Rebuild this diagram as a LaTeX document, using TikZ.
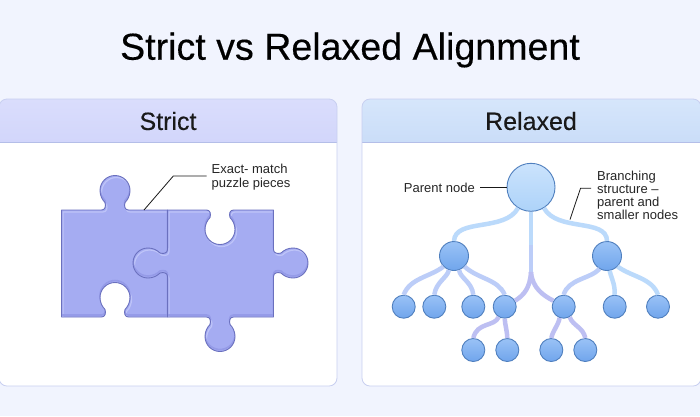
\documentclass[tikz,border=0pt]{standalone}
\usepackage{fontspec}
\setmainfont{Liberation Sans}
\newfontfamily\medfont[FakeBold=0.3]{Liberation Sans}
\definecolor{pagebg}{HTML}{F1F4FE}
\definecolor{panelline}{HTML}{C8CFF0}
\definecolor{strictA}{HTML}{DADDFC}
\definecolor{strictB}{HTML}{D2D6FB}
\definecolor{relaxA}{HTML}{D6E6FB}
\definecolor{relaxB}{HTML}{CADDF8}
\definecolor{headline}{HTML}{B4BEE8}
\definecolor{piecefill}{HTML}{A5ACF2}
\definecolor{pieceedge}{HTML}{6A70BE}
\definecolor{piecelight}{HTML}{BEC4F8}
\definecolor{piecedark}{HTML}{959BE8}
\definecolor{nodeedge}{HTML}{4F7FBE}
\definecolor{rootA}{HTML}{CBE3FC}
\definecolor{rootB}{HTML}{ADD3F9}
\definecolor{ballA}{HTML}{9AC2F6}
\definecolor{ballB}{HTML}{70A5EC}
\definecolor{linkA}{HTML}{BBDAFB}
\definecolor{linkB}{HTML}{BCCDF8}
\definecolor{linkC}{HTML}{BDBFF2}
\newcommand\jigtab[4]{{[shift={(#1,#2)},rotate=#3,yscale=#4] -- (-13.5,0) .. controls (-10,0) and (-8.8,-3.5) .. (-10,-7.5) .. controls (-13.2,-10.6) and (-15,-15.2) .. (-15,-19.5) .. controls (-15,-27.8) and (-8.3,-34.5) .. (0,-34.5) .. controls (8.3,-34.5) and (15,-27.8) .. (15,-19.5) .. controls (15,-15.2) and (13.2,-10.6) .. (10,-7.5) .. controls (8.8,-3.5) and (10,0) .. (13.5,0)}}
\newcommand\jigpiece[1]{
\fill[piecefill] #1;
\begin{scope}
\clip #1;
\draw[piecelight,line width=1.2pt,shift={(1.5,2)}] #1;
\draw[piecedark,line width=1.6pt,shift={(0,-2)}] #1;
\end{scope}
\draw[pieceedge,line width=0.9pt,line join=round] #1;
}
\begin{document}
\begin{tikzpicture}[x=1pt,y=-1pt,
panel/.style={draw=panelline,line width=0.8pt,rounded corners=8pt},
headtext/.style={font=\medfont\fontsize{25}{28}\selectfont,text=black!90},
note/.style={font=\fontsize{13}{13}\selectfont,align=left,text=black!85,inner sep=5pt},
leader/.style={draw=black!90,line width=0.8pt},
bignode/.style={shape=circle,draw=nodeedge,line width=0.9pt,inner sep=0pt,minimum size=48pt,top color=rootA,bottom color=rootB},
midnode/.style={shape=circle,draw=nodeedge,line width=0.9pt,inner sep=0pt,minimum size=29pt,top color=ballA,bottom color=ballB},
leafnode/.style={midnode,minimum size=23pt},
linkT/.style={line width=4.5pt,draw=linkA},
linkM/.style={line width=4.5pt,draw=linkB},
linkL/.style={line width=4.5pt,draw=linkC}]
\def\ya{306.7}
\def\yb{350}

\useasboundingbox (0,0) rectangle (700,416);
\fill[pagebg] (0,0) rectangle (700,416);

\node[font=\medfont\fontsize{37.6}{42}\selectfont,text=black] (title) at (350,50) {Strict vs Relaxed Alignment};

\fill[white,rounded corners=8pt] (-1,99) rectangle (337,386);
\begin{scope}
\clip[rounded corners=8pt] (-1,99) rectangle (337,386);
\shade[top color=strictA,bottom color=strictB] (-1,99) rectangle (337,142);
\draw[headline,line width=0.8pt] (-1,142) -- (337,142);
\end{scope}
\draw[panel] (-1,99) rectangle (337,386);
\node[headtext] (strict) at (168,121) {Strict};

\fill[white,rounded corners=8pt] (362,99) rectangle (701,386);
\begin{scope}
\clip[rounded corners=8pt] (362,99) rectangle (701,386);
\shade[top color=relaxA,bottom color=relaxB] (362,99) rectangle (701,142);
\draw[headline,line width=0.8pt] (362,142) -- (701,142);
\end{scope}
\draw[panel] (362,99) rectangle (701,386);
\node[headtext] (relaxed) at (531,121) {Relaxed};

\jigpiece{(61.5,210) \jigtab{115}{210}{0}{1} -- (167.5,210) -- (167.5,317) \jigtab{115}{317}{180}{-1} -- (61.5,317) -- cycle}
\jigpiece{(167.5,210) \jigtab{220}{210}{0}{-1} -- (273.5,210) \jigtab{273.5}{263}{-90}{1} -- (273.5,317) \jigtab{220}{317}{180}{1} -- (167.5,317) \jigtab{167.5}{263}{90}{1} -- cycle}

\node[note,anchor=west] (exact) at (206.5,177.5) {Exact- match\\[1pt]puzzle pieces};
\coordinate (exacttip) at (144,210);
\coordinate (exactbend) at (173.3,176);
\draw[leader] (exacttip) -- (exactbend) -- (exact.west |- exactbend);

\node[bignode] (root) at (531,187.3) {};
\node[midnode] (L) at (454,256) {};
\node[midnode] (R) at (607,256) {};

\node[note,anchor=east] (parent) at (480,187.5) {Parent node};
\draw[leader] (parent.east |- root.west) -- (root.west);

\node[note,anchor=west,inner sep=6pt] (branching) at (591,195.5) {Branching\\structure --\\parent and\\smaller nodes};
\coordinate (branchtip) at (570,219.5);
\coordinate (branchbend) at (580.5,188.3);
\draw[leader] (branchtip) -- (branchbend) -- (branching.west |- branchbend);

\draw[linkT] (root.238) .. controls (505,232) and (455,218) .. (L.north);
\draw[linkT] (root.302) .. controls (557,232) and (607,218) .. (R.north);

\node[leafnode] (a1) at (403.7,\ya) {};
\draw[linkM] (L.225) .. controls (430,277) and (410,278) .. (a1.north);
\node[leafnode] (a2) at (434.3,\ya) {};
\draw[linkM] (L.250) .. controls (447,278) and (436,282) .. (a2.north);
\node[leafnode] (a3) at (473.3,\ya) {};
\draw[linkM] (L.290) .. controls (460,278) and (472,282) .. (a3.north);
\node[leafnode] (a4) at (504.7,\ya) {};
\draw[linkM] (L.315) .. controls (478,279) and (498,279) .. (a4.north);

\node[leafnode] (a5) at (563.7,\ya) {};
\draw[linkM] (R.240) .. controls (590,279) and (568,279) .. (a5.north);
\node[leafnode] (a6) at (614.7,\ya) {};
\draw[linkT] (R.280) .. controls (612,280) and (615,284) .. (a6.north);
\node[leafnode] (a7) at (658,\ya) {};
\draw[linkT] (R.315) .. controls (632,277) and (652,278) .. (a7.north);

\coordinate (trunkmid) at (531,245);
\coordinate (split) at (531,272);
\draw[linkT] (root.south) -- (trunkmid);
\draw[linkM] (trunkmid) -- (split);
\draw[linkL] (split) .. controls (530,288) and (524,295) .. (a4.30);
\draw[linkL] (split) .. controls (532,288) and (544,296) .. (a5.150);

\node[leafnode] (b1) at (473.3,\yb) {};
\draw[linkL] (a4.240) .. controls (494,327) and (477,322) .. (b1.north);
\node[leafnode] (b2) at (507.3,\yb) {};
\draw[linkL] (a4.south) .. controls (505,325) and (507,330) .. (b2.north);
\node[leafnode] (b3) at (551.3,\yb) {};
\draw[linkL] (a5.250) .. controls (558,326) and (553,330) .. (b3.north);
\node[leafnode] (b4) at (585.3,\yb) {};
\draw[linkL] (a5.300) .. controls (573,326) and (583,327) .. (b4.north);
\end{tikzpicture}
\end{document}
